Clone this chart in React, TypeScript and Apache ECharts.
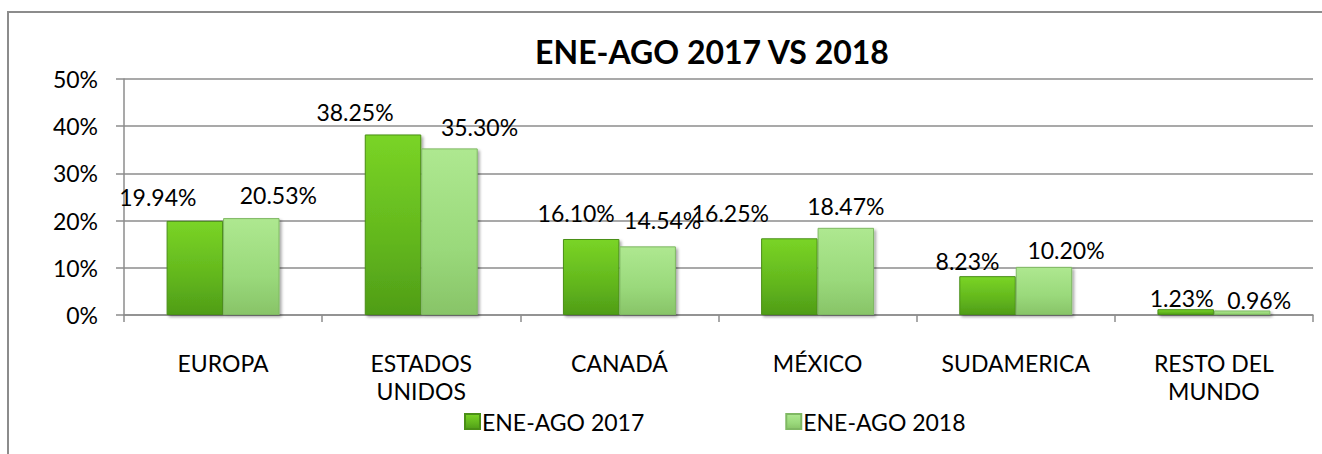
import React, { useEffect, useRef } from "react";
import * as echarts from "echarts";

const categories = ["EUROPA", "ESTADOS\nUNIDOS", "CANADÁ", "MÉXICO", "SUDAMERICA", "RESTO DEL\nMUNDO"];
const seriesNames = ["ENE-AGO 2017", "ENE-AGO 2018"];
const values2017 = [19.94, 38.25, 16.1, 16.25, 8.23, 1.23];
const values2018 = [20.53, 35.3, 14.54, 18.47, 10.2, 0.96];
const yTicks = { min: 0, max: 50, interval: 10 };
const titleText = "ENE-AGO 2017 VS 2018";

// label placement (styles, not data): [dx, center height above bar top]
const labelPos2017 = [[-37, 24], [-38, 22], [-15, 26], [-59, 25], [-20, 15], [-4, 11]];
const labelPos2018 = [[27, 23], [30, 21], [15, 26], [0, 22], [22, 17], [17, 10]];

const FONT = "Lato, 'Noto Sans', sans-serif";

const grad2017 = new echarts.graphic.LinearGradient(0, 0, 0, 1, [
  { offset: 0, color: "#7ad426" },
  { offset: 0.6, color: "#62b61d" },
  { offset: 1, color: "#4f9d17" },
]);
const grad2018 = new echarts.graphic.LinearGradient(0, 0, 0, 1, [
  { offset: 0, color: "#aee890" },
  { offset: 0.6, color: "#9ad97b" },
  { offset: 1, color: "#88c468" },
]);

function buildData(values: number[], pos: number[][]) {
  return values.map((v, i) => ({
    value: v,
    label: { offset: [pos[i][0], -(pos[i][1] - 12)] },
  }));
}

export default function App() {
  const ref = useRef<HTMLDivElement>(null);
  useEffect(() => {
    document.body.style.margin = "0";
    const chart = echarts.init(ref.current!, null, { renderer: "svg" });
    const labelCommon = {
      show: true,
      position: "top",
      distance: 0,
      color: "#000",
      fontFamily: FONT,
      fontSize: 23,
      lineHeight: 24,
      formatter: (p: any) => p.value.toFixed(2) + "%",
    };
    chart.setOption({
      animation: false,
      backgroundColor: "#fff",
      textStyle: { fontFamily: FONT },
      title: {
        text: titleText,
        left: 707,
        textAlign: "center",
        top: 30,
        textStyle: { fontFamily: FONT, fontWeight: "bold", fontSize: 32, color: "#000" },
      },
      graphic: [
        {
          type: "rect",
          shape: { x: 8, y: 12, width: 1400, height: 500 },
          style: { fill: "none", stroke: "#8c8c8c", lineWidth: 2 },
          silent: true,
        },
      ],
      legend: {
        left: 459,
        top: 405,
        itemWidth: 15,
        itemHeight: 15,
        itemGap: 141,
        icon: "rect",
        textStyle: { fontFamily: FONT, fontSize: 23, color: "#000", padding: [0, 0, 0, -3] },
        data: seriesNames,
      },
      grid: { left: 124, right: 9, top: 79, bottom: 139 },
      xAxis: {
        type: "category",
        data: categories,
        axisLine: { lineStyle: { color: "#8c8c8c", width: 1.5 } },
        axisTick: { show: true, length: 7, lineStyle: { color: "#8c8c8c", width: 1.5 } },
        axisLabel: { color: "#000", fontFamily: FONT, fontSize: 23, lineHeight: 28, margin: 34, interval: 0 },
      },
      yAxis: {
        type: "value",
        min: yTicks.min,
        max: yTicks.max,
        interval: yTicks.interval,
        axisLine: { show: true, lineStyle: { color: "#8c8c8c", width: 1.5 } },
        axisTick: { show: true, length: 8, lineStyle: { color: "#8c8c8c", width: 1.5 } },
        splitLine: { lineStyle: { color: "#8c8c8c", width: 1.5 } },
        axisLabel: { color: "#000", fontFamily: FONT, fontSize: 23, margin: 26, formatter: "{value}%" },
      },
      series: [
        {
          name: seriesNames[0],
          type: "bar",
          barCategoryGap: "43%",
          barGap: "0%",
          data: buildData(values2017, labelPos2017),
          itemStyle: {
            color: grad2017,
            borderColor: "#4a8f16",
            borderWidth: 1,
            shadowColor: "rgba(0,0,0,0.35)",
            shadowBlur: 3,
            shadowOffsetX: 2,
            shadowOffsetY: 2,
          },
          label: labelCommon,
        },
        {
          name: seriesNames[1],
          type: "bar",
          barCategoryGap: "43%",
          barGap: "0%",
          data: buildData(values2018, labelPos2018),
          itemStyle: {
            color: grad2018,
            borderColor: "#7fb863",
            borderWidth: 1,
            shadowColor: "rgba(0,0,0,0.35)",
            shadowBlur: 3,
            shadowOffsetX: 2,
            shadowOffsetY: 2,
          },
          label: labelCommon,
        },
      ],
    });
    return () => chart.dispose();
  }, []);
  return <div ref={ref} style={{ width: 1322, height: 454 }} />;
}
